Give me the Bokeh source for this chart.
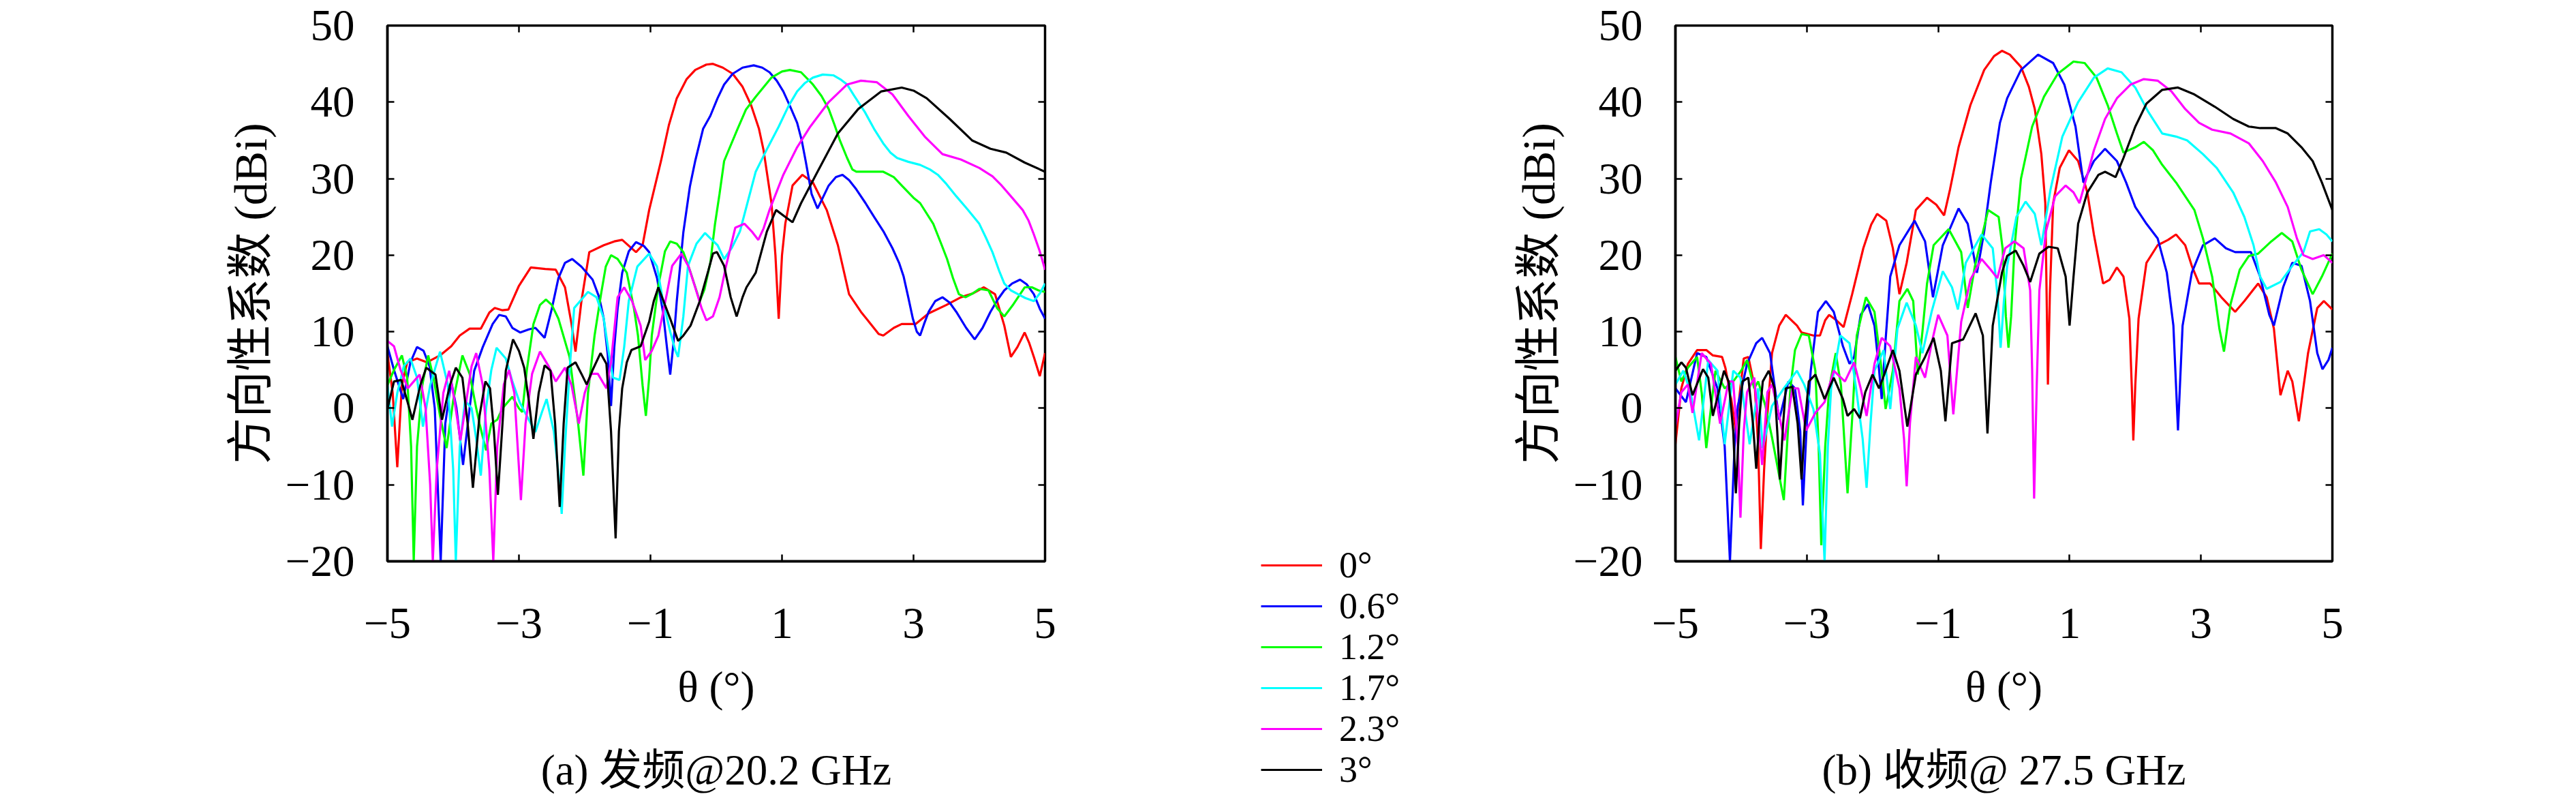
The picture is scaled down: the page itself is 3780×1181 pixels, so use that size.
from bokeh.plotting import figure
from bokeh.models import FixedTicker, LinearAxis, Legend, LegendItem, CustomLabelingPolicy, Label
from bokeh.layouts import row, column
from bokeh.embed import file_html
from bokeh.resources import INLINE

# ---------------- data ----------------
series_labels = ["0°", "0.6°", "1.2°", "1.7°", "2.3°", "3°"]
series_colors = ["#ff0000", "#0000ff", "#00ff00", "#00ffff", "#ff00ff", "#000000"]
x_ticks = [-5, -3, -1, 1, 3, 5]
y_ticks = [-20, -10, 0, 10, 20, 30, 40, 50]
x_tick_labels = {-5: "−5", -3: "−3", -1: "−1", 1: "1", 3: "3", 5: "5"}
y_tick_labels = {-20: "−20", -10: "−10", 0: "0", 10: "10", 20: "20", 30: "30", 40: "40", 50: "50"}
x_title = "θ (°)"
y_title = "方向性系数 (dBi)"
caption_a = "(a) 发频@20.2 GHz"
caption_b = "(b) 收频@ 27.5 GHz"

# (a) transmit, 20.2 GHz
tx_0_theta = [-5.0, -4.92, -4.85, -4.78, -4.7, -4.55, -4.4, -4.2, -4.03, -3.9, -3.75, -3.58, -3.45, -3.37, -3.25, -3.16, -3.0, -2.82, -2.6, -2.44, -2.3, -2.2, -2.14, -2.05, -1.93, -1.71, -1.55, -1.43, -1.3, -1.22, -1.12, -1.02, -0.84, -0.72, -0.6, -0.45, -0.32, -0.15, -0.05, 0.1, 0.25, 0.4, 0.53, 0.65, 0.72, 0.84, 0.9, 0.95, 1.0, 1.05, 1.16, 1.31, 1.47, 1.68, 1.85, 2.02, 2.2, 2.35, 2.47, 2.54, 2.7, 2.82, 3.03, 3.23, 3.5, 3.72, 3.9, 4.07, 4.24, 4.38, 4.48, 4.58, 4.69, 4.76, 4.83, 4.92, 5.0]
tx_0_gain = [7.2, 2, -7.7, 3, 6, 6.5, 6, 6.9, 8.1, 9.5, 10.4, 10.4, 12.5, 13.1, 12.8, 12.9, 16, 18.4, 18.2, 18.1, 15.8, 11, 7.4, 14, 20.4, 21.3, 21.8, 22, 21, 20.4, 21.3, 25.9, 32.3, 37, 40.5, 43, 44.2, 44.9, 45, 44.5, 43.7, 42, 39.6, 36.5, 33.7, 26.8, 20, 11.7, 20, 24.1, 29.1, 30.5, 29.5, 25.9, 21.3, 14.9, 12.6, 11, 9.7, 9.5, 10.5, 11, 11, 12.4, 13.5, 14.5, 15, 15.8, 14.9, 10.8, 6.7, 8, 9.9, 8.5, 6.7, 4.2, 7.2]

tx_06_theta = [-5.0, -4.9, -4.76, -4.65, -4.55, -4.45, -4.36, -4.28, -4.19, -4.12, -4.03, -3.95, -3.85, -3.75, -3.68, -3.55, -3.4, -3.3, -3.2, -3.1, -2.98, -2.85, -2.75, -2.61, -2.5, -2.4, -2.3, -2.19, -2.05, -1.88, -1.78, -1.71, -1.65, -1.6, -1.55, -1.5, -1.43, -1.33, -1.22, -1.1, -1.02, -0.9, -0.81, -0.75, -0.7, -0.65, -0.6, -0.5, -0.4, -0.32, -0.2, -0.09, 0.02, 0.12, 0.25, 0.4, 0.57, 0.7, 0.81, 0.92, 1.02, 1.12, 1.23, 1.3, 1.36, 1.45, 1.54, 1.62, 1.71, 1.82, 1.92, 2.02, 2.13, 2.27, 2.4, 2.55, 2.68, 2.78, 2.85, 2.92, 2.99, 3.05, 3.1, 3.16, 3.23, 3.33, 3.44, 3.55, 3.65, 3.8, 3.93, 4.05, 4.17, 4.28, 4.38, 4.5, 4.62, 4.72, 4.83, 4.92, 5.0]
tx_06_gain = [8.1, 5, 1.2, 6, 8, 7.5, 5.5, 0, -20, -2, 3.5, 0, -7.4, 0, 4.9, 8, 11, 12.2, 12, 10.5, 9.9, 10.3, 10.5, 9.2, 13, 17, 19, 19.5, 18.5, 16.8, 14.5, 11.7, 7, 0.3, 8, 13, 17.7, 20.5, 21.7, 21.2, 20.4, 17, 12.6, 8, 4.4, 8.5, 14, 23, 29, 32.3, 36.5, 38.2, 40.5, 42.3, 43.7, 44.5, 44.8, 44.5, 43.9, 42.8, 41.4, 39.5, 37.3, 35, 32.3, 28, 26.1, 27.5, 29.1, 30.2, 30.5, 29.8, 28.6, 26.8, 25, 23, 20.9, 19, 17.2, 14.5, 11.7, 10, 9.5, 11, 12.6, 14, 14.5, 13.8, 12.6, 10.5, 9.0, 10.5, 12.6, 14.2, 15.4, 16.3, 16.8, 16.2, 14.9, 13, 11.7]

tx_12_theta = [-5.0, -4.9, -4.78, -4.7, -4.64, -4.6, -4.55, -4.47, -4.38, -4.3, -4.2, -4.1, -4.0, -3.86, -3.75, -3.65, -3.6, -3.5, -3.42, -3.33, -3.25, -3.1, -3.0, -2.95, -2.88, -2.78, -2.68, -2.59, -2.5, -2.4, -2.23, -2.1, -2.02, -1.95, -1.85, -1.75, -1.68, -1.6, -1.5, -1.36, -1.25, -1.19, -1.12, -1.07, -1.02, -0.98, -0.88, -0.78, -0.7, -0.6, -0.5, -0.4, -0.25, -0.18, -0.09, -0.02, 0.05, 0.12, 0.32, 0.45, 0.6, 0.84, 1.0, 1.12, 1.29, 1.47, 1.6, 1.71, 1.8, 1.88, 1.99, 2.07, 2.13, 2.33, 2.54, 2.7, 2.82, 3.0, 3.1, 3.3, 3.42, 3.51, 3.6, 3.69, 3.79, 3.9, 4.0, 4.14, 4.27, 4.38, 4.52, 4.69, 4.8, 4.9, 5.0]
tx_12_gain = [3, 5, 6.9, 4, -5, -20, -5, 3, 6.9, 4, -1, -5.2, 1, 6.9, 4.5, 0, -2, -5.5, -2, -1.5, 0, 1.5, 0, -0.5, 5, 11, 13.5, 14.2, 13.5, 11.7, 6.7, -2, -8.8, 2, 9.5, 15, 18.5, 20, 19.5, 17.7, 13, 9.5, 3, -1, 4, 9.5, 16, 20.5, 21.8, 21.5, 20.4, 18, 14, 15.5, 19, 24, 28, 32.3, 36.4, 39, 40.7, 43.2, 44, 44.2, 43.9, 42.3, 40.8, 39.1, 37, 35, 32.7, 31.2, 30.9, 30.9, 30.9, 30.2, 29.1, 27.5, 26.8, 24.1, 21.5, 19.5, 17, 14.9, 14.5, 15, 15.6, 15.4, 13.1, 12, 13.6, 15.8, 15.8, 15.4, 15.2]

tx_17_theta = [-5.0, -4.93, -4.85, -4.75, -4.65, -4.55, -4.46, -4.35, -4.2, -4.08, -4.0, -3.96, -3.9, -3.82, -3.72, -3.65, -3.58, -3.5, -3.42, -3.34, -3.2, -3.1, -2.99, -2.85, -2.75, -2.65, -2.58, -2.47, -2.38, -2.35, -2.3, -2.23, -2.16, -1.95, -1.82, -1.71, -1.63, -1.57, -1.47, -1.4, -1.33, -1.2, -1.02, -0.9, -0.81, -0.7, -0.62, -0.58, -0.5, -0.43, -0.3, -0.17, -0.09, 0.02, 0.12, 0.24, 0.36, 0.48, 0.6, 0.78, 0.95, 1.1, 1.23, 1.35, 1.47, 1.62, 1.78, 1.9, 1.99, 2.1, 2.26, 2.4, 2.54, 2.65, 2.75, 2.92, 3.1, 3.25, 3.37, 3.5, 3.65, 3.82, 4.0, 4.1, 4.2, 4.3, 4.38, 4.48, 4.59, 4.7, 4.83, 4.92, 5.0]
tx_17_gain = [3.1, -2.4, 2, 5.5, 6.5, 4, -2.4, 3, 7.4, 3, -8, -20, -5, 1, 0, -4, -8.8, 0, 5, 7.9, 6.5, 3.5, 0.8, -1.5, -3.1, -0.5, 1.2, -3, -10, -13.8, -5, 5, 13.1, 15.2, 14.5, 11.7, 7, 4, 3.7, 8, 14, 18.5, 20.2, 18.5, 14, 10, 7.5, 6.7, 12, 18.6, 21.5, 22.9, 22.2, 21.3, 19.5, 21, 23.1, 27, 30.9, 34, 36.8, 39.5, 41.4, 42.5, 43.2, 43.6, 43.5, 42.9, 42.3, 40.8, 38.7, 36.5, 34.6, 33.4, 32.7, 32.2, 31.8, 31.2, 30.5, 29.3, 27.7, 26, 24.1, 22.3, 20.4, 18, 16.3, 15.4, 14.9, 14.4, 14, 15, 16.3]

tx_23_theta = [-5.0, -4.9, -4.8, -4.69, -4.6, -4.51, -4.42, -4.35, -4.31, -4.25, -4.15, -4.06, -3.98, -3.89, -3.8, -3.72, -3.65, -3.55, -3.45, -3.39, -3.33, -3.23, -3.15, -3.07, -2.97, -2.9, -2.8, -2.68, -2.55, -2.44, -2.3, -2.2, -2.09, -2.0, -1.9, -1.8, -1.67, -1.6, -1.5, -1.4, -1.28, -1.15, -1.08, -0.98, -0.88, -0.75, -0.67, -0.53, -0.42, -0.32, -0.22, -0.15, -0.05, 0.05, 0.15, 0.29, 0.43, 0.55, 0.64, 0.72, 0.81, 1.02, 1.23, 1.43, 1.71, 1.99, 2.2, 2.44, 2.68, 2.92, 3.17, 3.44, 3.72, 4.0, 4.2, 4.34, 4.5, 4.66, 4.75, 4.83, 4.92, 5.0]
tx_23_gain = [8.8, 8.1, 5, 2.6, 3.5, 4.4, 0, -10, -20, -8, 2, 4.9, 1, -4.2, 1, 5.5, 7.2, 3, -8, -20, -5, 3.1, 5, 2, -12, -2, 4.5, 7.4, 5.5, 3.5, 5.3, 3, -2, 2, 4.5, 4.5, 2.6, 6, 14.5, 15.8, 14, 10.8, 6.3, 7.5, 9.5, 15, 18.6, 20.2, 18.5, 15.8, 13, 11.5, 12, 14.5, 18.6, 23.6, 24.1, 23, 22, 23.5, 25.9, 30.5, 34.1, 36.8, 40, 42.3, 42.8, 42.6, 41, 38.2, 35.5, 33.2, 32.5, 31.4, 30.3, 29.1, 27.5, 25.9, 24.5, 22.7, 20.5, 18.1]

tx_3_theta = [-5.0, -4.9, -4.79, -4.7, -4.62, -4.5, -4.41, -4.27, -4.17, -4.05, -3.96, -3.86, -3.78, -3.7, -3.6, -3.51, -3.44, -3.38, -3.32, -3.25, -3.2, -3.09, -3.0, -2.92, -2.85, -2.78, -2.7, -2.61, -2.52, -2.45, -2.38, -2.32, -2.26, -2.14, -2.05, -1.97, -1.88, -1.76, -1.67, -1.6, -1.53, -1.48, -1.43, -1.36, -1.29, -1.15, -1.02, -0.95, -0.88, -0.78, -0.7, -0.58, -0.5, -0.39, -0.25, -0.12, -0.05, 0.01, 0.12, 0.22, 0.31, 0.4, 0.46, 0.6, 0.77, 0.91, 1.05, 1.16, 1.29, 1.54, 1.85, 2.16, 2.51, 2.82, 3.0, 3.2, 3.55, 3.89, 4.17, 4.41, 4.69, 5.0]
tx_3_gain = [-0.1, 3.5, 3.7, 1, -1.5, 3, 5.3, 4.4, -1.5, 3, 5.3, 4, -2, -10.4, -1, 3.5, 2.6, -3, -11.3, -2, 4.9, 9, 7.5, 5.3, 1, -4, 2, 5.6, 4.9, -2, -12.9, -2, 5.3, 6, 4.5, 3.1, 5, 7.2, 5.8, -3, -17, -3, 2.6, 6, 7.6, 8.1, 11.3, 14, 15.8, 13.5, 11.7, 8.8, 9.5, 10.8, 14, 18, 20.2, 20.4, 18.6, 14.5, 12, 14.5, 15.8, 17.7, 23.1, 25.9, 25, 24.3, 26.8, 30.9, 35.9, 39.1, 41.4, 41.9, 41.5, 40.5, 37.8, 35, 33.9, 33.4, 32.1, 30.9]

# (b) receive, 27.5 GHz
rx_0_theta = [-5.0, -4.91, -4.81, -4.67, -4.53, -4.43, -4.29, -4.24, -4.15, -4.08, -4.02, -3.96, -3.89, -3.79, -3.74, -3.7, -3.65, -3.61, -3.53, -3.42, -3.32, -3.15, -3.08, -2.9, -2.8, -2.72, -2.66, -2.55, -2.44, -2.31, -2.14, -2.02, -1.93, -1.79, -1.69, -1.59, -1.48, -1.34, -1.17, -1.03, -0.91, -0.82, -0.69, -0.51, -0.3, -0.15, -0.03, 0.09, 0.26, 0.38, 0.47, 0.57, 0.63, 0.65, 0.67, 0.7, 0.75, 0.85, 0.99, 1.13, 1.27, 1.37, 1.51, 1.61, 1.72, 1.82, 1.91, 1.95, 1.97, 2.0, 2.05, 2.17, 2.34, 2.5, 2.62, 2.76, 2.86, 2.97, 3.14, 3.31, 3.52, 3.66, 3.87, 4.0, 4.11, 4.21, 4.32, 4.39, 4.49, 4.63, 4.77, 4.87, 5.0]
rx_0_gain = [-4.7, 2.6, 5.8, 7.6, 7.6, 6.9, 6.7, 5.3, 1.2, -3, 2, 6.5, 6.7, 2.6, -5, -18.4, -8, -2, 7.2, 10.8, 12.2, 10.8, 9.9, 9.5, 9.5, 11.5, 12.2, 11.5, 10.6, 14.9, 20.9, 24, 25.4, 24.5, 20.9, 14.9, 19, 25.9, 27.5, 26.6, 25.2, 28.6, 34.1, 39.6, 44.2, 46, 46.7, 46.2, 44.6, 42, 39.1, 33.2, 26.8, 15, 3.1, 15, 26.8, 31.4, 33.7, 32.3, 28.2, 22.7, 16.3, 16.8, 18.4, 17.2, 11.7, 2, -4.2, 3, 11.7, 19, 21.3, 22, 22.7, 21.3, 18.6, 16.3, 16.3, 14.5, 12.6, 14, 16.3, 14.5, 10.4, 1.7, 4.9, 3.5, -1.7, 7.2, 13.1, 14, 12.9]

rx_06_theta = [-5.0, -4.84, -4.67, -4.53, -4.36, -4.25, -4.17, -4.1, -4.05, -3.91, -3.77, -3.68, -3.56, -3.42, -3.28, -3.18, -3.1, -3.06, -3.0, -2.94, -2.83, -2.71, -2.59, -2.45, -2.35, -2.28, -2.18, -2.07, -1.97, -1.9, -1.86, -1.8, -1.73, -1.59, -1.36, -1.2, -1.08, -0.93, -0.69, -0.55, -0.41, -0.3, -0.2, -0.06, 0.05, 0.26, 0.52, 0.75, 0.92, 1.09, 1.21, 1.37, 1.54, 1.72, 1.86, 2.0, 2.17, 2.34, 2.48, 2.58, 2.62, 2.65, 2.68, 2.72, 2.86, 3.03, 3.21, 3.38, 3.52, 3.76, 3.9, 4.04, 4.11, 4.25, 4.39, 4.53, 4.66, 4.77, 4.85, 4.94, 5.0]
rx_06_gain = [2.6, 0.8, 7.2, 6.7, 2.6, -5, -20, -5, 0.3, 5.8, 8.5, 9.2, 7.2, -1.5, 3.5, 2.6, -3, -12.7, -2, 4.9, 12.6, 14, 12.6, 8.1, 5.8, 6.7, 12.2, 13.6, 10.8, 5, 1.2, 9, 17.2, 21.3, 24.5, 21.8, 14.5, 21.3, 26.1, 24.1, 17.7, 23.1, 29.5, 37.3, 40.5, 44.2, 46.2, 45.1, 42.3, 36.8, 29.5, 32.3, 33.9, 32.3, 29.5, 26.3, 24.1, 22.2, 17.7, 10.8, 3, -2.9, 3, 10.8, 17.7, 21.3, 22.2, 20.9, 20.4, 20.4, 17.2, 12.2, 10.8, 15.8, 19, 18.6, 14, 7.2, 5.1, 6.3, 7.9]

rx_12_theta = [-5.0, -4.91, -4.81, -4.67, -4.6, -4.53, -4.46, -4.39, -4.25, -4.12, -4.0, -3.91, -3.8, -3.74, -3.63, -3.53, -3.35, -3.25, -3.18, -3.08, -2.97, -2.87, -2.82, -2.78, -2.72, -2.66, -2.56, -2.48, -2.38, -2.3, -2.24, -2.1, -1.97, -1.86, -1.8, -1.69, -1.59, -1.47, -1.38, -1.31, -1.24, -1.17, -1.07, -0.84, -0.65, -0.55, -0.44, -0.24, -0.08, -0.02, 0.03, 0.07, 0.11, 0.16, 0.26, 0.43, 0.61, 0.82, 1.06, 1.23, 1.41, 1.58, 1.72, 1.82, 2.0, 2.13, 2.27, 2.41, 2.62, 2.76, 2.9, 3.03, 3.17, 3.28, 3.35, 3.45, 3.59, 3.73, 3.87, 4.07, 4.23, 4.39, 4.53, 4.7, 4.84, 5.0]
rx_12_gain = [6.7, 3.5, 5.3, 6.7, 2, -5.2, 0, 4.9, 2.6, 3.5, 4.9, 6.3, 2.6, 3.5, 0.3, -3.8, -12, 2.6, 7.6, 9.7, 9.5, 4.9, -5, -17.9, -5, 2.6, 7.2, 3, -11.1, 0, 9.5, 14.5, 12.6, 4.9, -0.1, 4.9, 14, 15.6, 14, 4.4, 10, 16.3, 21.3, 23.4, 20.4, 13.1, 18.6, 25.9, 25, 20.9, 12, 7.9, 12, 20.9, 30, 36.8, 40.7, 43.7, 45.3, 45.1, 43.2, 39.6, 35.9, 33.4, 34.1, 34.8, 33.7, 31.8, 29.5, 27.7, 25.9, 22.2, 17.2, 10.4, 7.4, 13.6, 18.1, 19.9, 20.2, 21.8, 22.9, 21.8, 18.1, 14.9, 17.2, 20.2]

rx_17_theta = [-5.0, -4.88, -4.77, -4.64, -4.5, -4.36, -4.25, -4.12, -4.01, -3.87, -3.74, -3.67, -3.53, -3.35, -3.15, -3.04, -2.9, -2.8, -2.73, -2.68, -2.63, -2.49, -2.35, -2.25, -2.15, -2.09, -2.03, -1.97, -1.83, -1.73, -1.62, -1.48, -1.34, -1.24, -1.1, -0.93, -0.79, -0.7, -0.58, -0.34, -0.17, -0.1, -0.05, 0.0, 0.05, 0.19, 0.33, 0.47, 0.57, 0.71, 0.89, 1.13, 1.37, 1.58, 1.79, 2.0, 2.2, 2.41, 2.62, 2.79, 3.03, 3.24, 3.49, 3.66, 3.8, 3.9, 4.0, 4.21, 4.39, 4.56, 4.66, 4.8, 4.91, 5.0]
rx_17_gain = [3.1, 4.9, 2.1, -4.2, 6.3, 4.9, -4.7, 4.9, 4, -4.7, 2.6, -5.2, 0.3, 2.6, 4.9, 3.1, -0.1, -6, -20, -5, 2.6, 9.5, 8.5, 2.6, -4, -10.4, -2, 4.9, 7.6, -0.1, 10.4, 13.8, 10.8, 7.2, 12.6, 17.9, 15.8, 12.9, 19, 22.7, 20.9, 15, 7.9, 14, 18.6, 25, 27, 25.4, 21.3, 28.6, 35.5, 40, 43.2, 44.4, 43.9, 41.9, 38.7, 35.9, 35.5, 35, 33.2, 31.4, 28.2, 25, 21.3, 17.2, 15.6, 16.5, 18.6, 20.4, 23.1, 23.4, 22.7, 21.8]

rx_23_theta = [-5.0, -4.91, -4.81, -4.74, -4.6, -4.46, -4.32, -4.19, -4.12, -4.05, -4.01, -3.96, -3.91, -3.8, -3.68, -3.6, -3.53, -3.42, -3.34, -3.22, -3.13, -3.01, -2.87, -2.73, -2.59, -2.42, -2.28, -2.18, -2.09, -1.97, -1.86, -1.73, -1.59, -1.52, -1.48, -1.43, -1.34, -1.2, -1.1, -1.0, -0.86, -0.77, -0.65, -0.51, -0.34, -0.2, -0.1, 0.02, 0.16, 0.3, 0.4, 0.43, 0.46, 0.5, 0.54, 0.64, 0.78, 0.94, 1.06, 1.15, 1.27, 1.37, 1.54, 1.72, 1.93, 2.13, 2.34, 2.55, 2.76, 2.97, 3.17, 3.45, 3.73, 3.94, 4.14, 4.32, 4.46, 4.56, 4.7, 4.87, 5.0]
rx_23_gain = [-2.4, 2.1, 3.1, -0.6, 7.2, 5.8, -2, 3.5, 3.5, -5, -14.3, -3, 2.1, 4, -7.4, 2.1, 3.1, -1, -4.2, 2.6, 2.6, -2.9, -0.6, 0.8, 4.9, 3.5, 6, 2.6, -1, 5.8, 9.2, 8.1, 2.6, -4, -10.2, -2, 6.7, 4, 8.5, 12.2, 9.5, -0.8, 11.3, 16.8, 19.5, 18.1, 17, 20.9, 21.8, 20.9, 15.4, 5, -11.8, 3, 15.4, 23.1, 27.7, 29.1, 28.2, 26.8, 30.5, 33.7, 37.8, 40.5, 42.3, 43, 42.8, 41.4, 39.1, 37.3, 36.4, 35.9, 34.6, 32.3, 29.5, 26.3, 22.2, 20, 19.5, 20, 19]

rx_3_theta = [-5.0, -4.91, -4.84, -4.74, -4.58, -4.5, -4.43, -4.26, -4.19, -4.12, -4.08, -4.03, -3.98, -3.89, -3.82, -3.77, -3.72, -3.67, -3.58, -3.49, -3.45, -3.41, -3.36, -3.32, -3.22, -3.14, -3.08, -3.03, -2.97, -2.87, -2.73, -2.59, -2.45, -2.38, -2.28, -2.19, -2.11, -2.0, -1.9, -1.8, -1.69, -1.59, -1.47, -1.34, -1.2, -1.07, -0.96, -0.89, -0.79, -0.62, -0.43, -0.32, -0.25, -0.17, -0.03, 0.05, 0.18, 0.3, 0.4, 0.54, 0.68, 0.82, 0.94, 1.0, 1.06, 1.13, 1.27, 1.44, 1.54, 1.7, 1.82, 2.0, 2.17, 2.41, 2.65, 2.9, 3.21, 3.49, 3.73, 3.9, 4.14, 4.32, 4.53, 4.7, 4.84, 5.0]
rx_3_gain = [4.9, 6, 5.3, 1.7, 5.1, 4, -1, 4.9, 3.5, -3, -11.1, -2, 3.5, 4, -2, -7.9, -1, 3.5, 4.9, 2.6, -3, -9.3, -2, 2.6, 2.8, -2, -9.3, -2, 3.5, 4.4, 1.2, 4, 1.2, -1, -0.1, -1.3, 2.1, 4.4, 2.6, 4.9, 7.6, 4.9, -2.4, 4.4, 6.7, 9.2, 4.9, -1.7, 8.5, 9, 12.4, 9.5, -3.3, 10.8, 17.7, 19.9, 20.6, 18.6, 16.5, 20.2, 21.1, 20.9, 17.2, 10.8, 17.2, 24.1, 28.2, 30.5, 30.9, 30.2, 32.7, 36.8, 39.8, 41.6, 41.9, 41, 39.4, 37.8, 36.8, 36.6, 36.6, 35.9, 34.1, 32.3, 29.5, 25.9]

tx_series = [(tx_0_theta, tx_0_gain), (tx_06_theta, tx_06_gain), (tx_12_theta, tx_12_gain),
             (tx_17_theta, tx_17_gain), (tx_23_theta, tx_23_gain), (tx_3_theta, tx_3_gain)]
rx_series = [(rx_0_theta, rx_0_gain), (rx_06_theta, rx_06_gain), (rx_12_theta, rx_12_gain),
             (rx_17_theta, rx_17_gain), (rx_23_theta, rx_23_gain), (rx_3_theta, rx_3_gain)]

# ---------------- styling ----------------
SERIF = "Liberation Serif, Noto Sans CJK SC"
FS_TICK = "65px"
FS_LABEL = "63px"
LINE_W = 3.2
PLOT_H = 1093      # plot canvas height; caption strip below it
CAP_H = 72

NO_LABELS = CustomLabelingPolicy(code="""
for (const i of Array.from(indices)) { indices.unset(i) }
return indices
""")


def mirror_axis(ticks):
    return LinearAxis(ticker=FixedTicker(ticks=ticks), major_tick_in=10, major_tick_out=0,
                      major_tick_line_width=2.5, minor_tick_line_color=None,
                      major_label_text_font_size="0px", major_label_standoff=0,
                      major_label_policy=NO_LABELS, axis_line_color=None)


def make_panel(series, width, border_left, border_right):
    p = figure(width=width, height=PLOT_H, x_range=(-5, 5), y_range=(-20, 50),
               output_backend="svg", toolbar_location=None,
               min_border_left=border_left, min_border_right=border_right,
               min_border_top=37, min_border_bottom=270,
               background_fill_color="white", border_fill_color="white")
    p.outline_line_color = "black"
    p.outline_line_width = 3.5
    p.outline_line_alpha = 1.0
    p.xgrid.visible = False
    p.ygrid.visible = False

    for (th, g), col in zip(series, series_colors):
        p.line(th, g, line_color=col, line_width=LINE_W)

    for ax in (p.xaxis[0], p.yaxis[0]):
        ax.major_tick_in = 10
        ax.major_tick_out = 0
        ax.major_tick_line_width = 2.5
        ax.major_tick_line_color = "black"
        ax.minor_tick_line_color = None
        ax.axis_line_width = 3.5
        ax.major_label_text_font = SERIF
        ax.major_label_text_font_size = FS_TICK
        ax.major_label_text_color = "black"
        ax.axis_label_text_font = SERIF
        ax.axis_label_text_font_style = "normal"
        ax.axis_label_text_color = "black"

    p.xaxis.ticker = FixedTicker(ticks=x_ticks)
    p.xaxis.major_label_overrides = x_tick_labels
    p.xaxis.major_label_standoff = 69
    p.xaxis.axis_label = x_title
    p.xaxis.axis_label_text_font_size = FS_LABEL
    p.xaxis.axis_label_standoff = 34

    p.yaxis.ticker = FixedTicker(ticks=y_ticks)
    p.yaxis.major_label_overrides = y_tick_labels
    p.yaxis.major_label_standoff = 48
    p.yaxis.axis_label = y_title
    p.yaxis.axis_label_text_font_size = "68px"
    p.yaxis.axis_label_standoff = 10

    p.add_layout(mirror_axis(x_ticks[1:-1]), "above")
    p.add_layout(mirror_axis(y_ticks[1:-1]), "right")
    return p


def make_caption(text, width, border_left, border_right):
    c = figure(width=width, height=CAP_H, x_range=(0, 1), y_range=(0, 1),
               output_backend="svg", toolbar_location=None,
               x_axis_type=None, y_axis_type=None,
               min_border_left=border_left, min_border_right=border_right,
               min_border_top=0, min_border_bottom=0,
               outline_line_color=None, background_fill_color="white", border_fill_color="white")
    c.add_layout(Label(x=0.5, y=0.5, text=text, text_align="center", text_baseline="middle",
                       text_font=SERIF, text_font_size=FS_LABEL, text_color="black"))
    return c


p1 = make_panel(tx_series, 1552, 568, 19)
c1 = make_caption(caption_a, 1552, 568, 19)
p2 = make_panel(rx_series, 1652, 346, 342)
c2 = make_caption(caption_b, 1652, 346, 342)

# middle panel: the legend.  Its lines reuse panel (a)'s data but lie outside this
# panel's ranges, so only the legend keys are visible.
pleg = figure(width=560, height=PLOT_H + CAP_H, x_range=(0, 1), y_range=(100, 101),
              output_backend="svg", toolbar_location=None,
              x_axis_type=None, y_axis_type=None, min_border=0,
              outline_line_color=None, background_fill_color="white", border_fill_color="white")
keys = [pleg.line(th, g, line_color=col, line_width=LINE_W) for (th, g), col in zip(tx_series, series_colors)]


def make_legend(idx, y):
    return Legend(items=[LegendItem(label=series_labels[i], renderers=[keys[i]]) for i in idx],
                  location=(298, y), orientation="vertical",
                  glyph_width=90, glyph_height=72, label_height=72, label_width=60,
                  label_standoff=25, spacing=48, padding=0, margin=0,
                  border_line_color=None, background_fill_alpha=0,
                  label_text_font=SERIF, label_text_font_size="54px", label_text_color="black")


pleg.add_layout(make_legend([0, 2, 4], 60))
pleg.add_layout(make_legend([1, 3, 5], 0))

layout = row(column(p1, c1), column(pleg), column(p2, c2))
open("out.html", "w").write(file_html(layout, INLINE))
